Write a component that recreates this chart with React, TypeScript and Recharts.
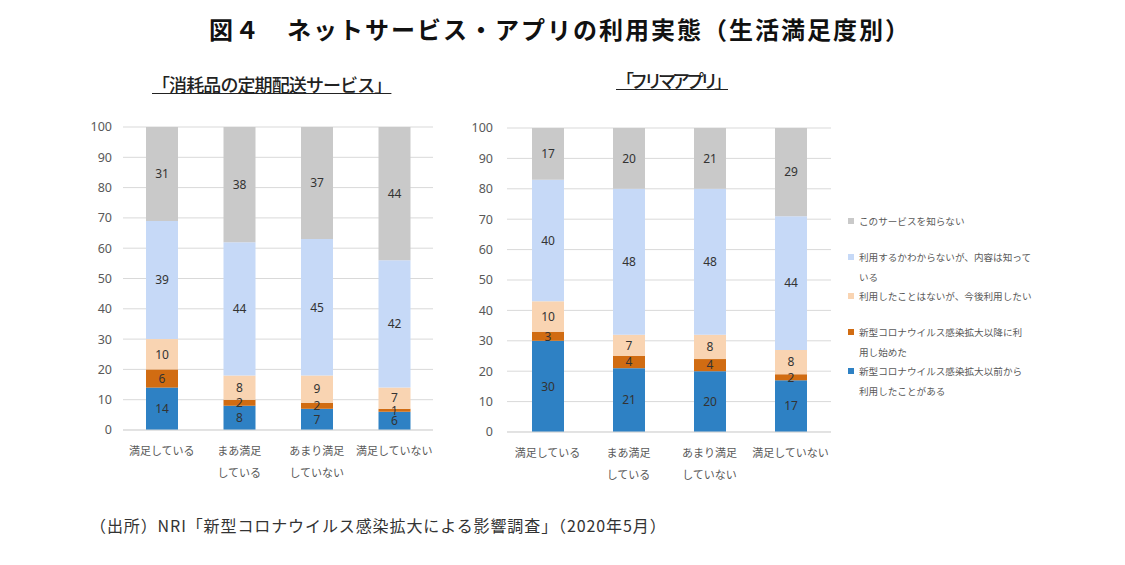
import React from "react";
import { BarChart, Bar, XAxis, YAxis, CartesianGrid, LabelList } from "recharts";

const categories = ["満足している", "まあ満足\nしている", "あまり満足\nしていない", "満足していない"];

// bottom -> top stacking order
const seriesNames = [
  "新型コロナウイルス感染拡大以前から利用したことがある",
  "新型コロナウイルス感染拡大以降に利用し始めた",
  "利用したことはないが、今後利用したい",
  "利用するかわからないが、内容は知っている",
  "このサービスを知らない",
];
const legendLabels = [
  "新型コロナウイルス感染拡大以前から\n利用したことがある",
  "新型コロナウイルス感染拡大以降に利\n用し始めた",
  "利用したことはないが、今後利用したい",
  "利用するかわからないが、内容は知って\nいる",
  "このサービスを知らない",
];
const seriesColors = ["#2E81C4", "#D16C12", "#F9D4B2", "#C6D9F7", "#C9C9C9"];

// 「消耗品の定期配送サービス」
const teikiBefore = [14, 8, 7, 6];
const teikiAfter = [6, 2, 2, 1];
const teikiWant = [10, 8, 9, 7];
const teikiKnow = [39, 44, 45, 42];
const teikiUnknown = [31, 38, 37, 44];

// 「フリマアプリ」
const furimaBefore = [30, 21, 20, 17];
const furimaAfter = [3, 4, 4, 2];
const furimaWant = [10, 7, 8, 8];
const furimaKnow = [40, 48, 48, 44];
const furimaUnknown = [17, 20, 21, 29];

const yTicks = [0, 10, 20, 30, 40, 50, 60, 70, 80, 90, 100];

const JP = "'Noto Sans CJK JP', 'Noto Sans', sans-serif";

function buildRows(series: number[][]) {
  return categories.map((c, i) => {
    const row: Record<string, string | number> = { category: c };
    series.forEach((s, k) => (row["s" + k] = s[i]));
    return row;
  });
}

const teikiRows = buildRows([teikiBefore, teikiAfter, teikiWant, teikiKnow, teikiUnknown]);
const furimaRows = buildRows([furimaBefore, furimaAfter, furimaWant, furimaKnow, furimaUnknown]);

function CatTick(props: any) {
  const { x, y, payload } = props;
  const lines = String(payload.value).split("\n");
  return (
    <g transform={`translate(${x},${y})`}>
      {lines.map((l, i) => (
        <text key={i} x={0} y={13 + i * 22} dy="0.35em" textAnchor="middle" fontSize={11} fill="#595959" fontFamily={JP}>
          {l}
        </text>
      ))}
    </g>
  );
}

function Panel({ rows, width, height, tickMargin }: { rows: any[]; width: number; height: number; tickMargin: number }) {
  return (
    <BarChart width={width} height={height} data={rows} margin={{ top: 10, right: 0, bottom: 0, left: 0 }} barSize={32}>
      <CartesianGrid vertical={false} stroke="#D9D9D9" />
      <XAxis dataKey="category" tick={<CatTick />} tickLine={false} axisLine={{ stroke: "#D9D9D9" }} height={50} interval={0} />
      <YAxis
        domain={[0, 100]}
        ticks={yTicks}
        allowDataOverflow
        width={50}
        axisLine={false}
        tickLine={false}
        tickMargin={tickMargin}
        tick={{ fontSize: 12.5, fill: "#595959", fontFamily: "'Noto Sans', sans-serif" }}
      />
      {seriesNames.map((name, k) => (
        <Bar key={k} dataKey={"s" + k} name={name} stackId="a" fill={seriesColors[k]} isAnimationActive={false}>
          <LabelList dataKey={"s" + k} position="center" fill="#333" fontSize={12} fontFamily="'Noto Sans', sans-serif" />
        </Bar>
      ))}
    </BarChart>
  );
}

export default function App() {
  const legendOrder = [4, 3, 2, 1, 0];
  return (
    <div style={{ position: "absolute", left: 0, top: 0, width: 1125, height: 565, background: "#fff", fontFamily: JP }}>
      <div style={{ position: "absolute", left: 200, top: 12, width: 720, textAlign: "center", fontSize: 24, fontWeight: 700, color: "#111", letterSpacing: 2, lineHeight: "34px" }}>
        図４　ネットサービス・アプリの利用実態（生活満足度別）
      </div>
      <div style={{ position: "absolute", left: 152, top: 72, fontSize: 18, fontWeight: 500, color: "#222", textDecoration: "underline", lineHeight: "25px", letterSpacing: -0.9, whiteSpace: "nowrap" }}>
        「消耗品の定期配送サービス」
      </div>
      <div style={{ position: "absolute", left: 616, top: 68, fontSize: 18, fontWeight: 500, color: "#222", textDecoration: "underline", lineHeight: "25px", letterSpacing: -4, whiteSpace: "nowrap" }}>
        「フリマアプリ」
      </div>

      <div style={{ position: "absolute", left: 73, top: 117 }}>
        <Panel rows={teikiRows} width={360} height={363} tickMargin={5} />
      </div>
      <div style={{ position: "absolute", left: 457, top: 118 }}>
        <Panel rows={furimaRows} width={374} height={364} tickMargin={8} />
      </div>

      <div style={{ position: "absolute", left: 848, top: 211, fontSize: 9.6, color: "#595959", lineHeight: "20px" }}>
        {legendOrder.map((k) => {
          const twoLines = legendLabels[k].includes("\n");
          return (
            <div key={k} style={{ position: "relative", paddingLeft: 11, height: twoLines ? 39 : 36, whiteSpace: "pre-line" }}>
              <span style={{ position: "absolute", left: 0, top: 7, width: 6, height: 6, background: seriesColors[k] }} />
              {legendLabels[k]}
            </div>
          );
        })}
      </div>

      <div style={{ position: "absolute", left: 90, top: 513, fontSize: 16, color: "#333", lineHeight: "24px", letterSpacing: 0.9, whiteSpace: "nowrap" }}>
        （出所）NRI「新型コロナウイルス感染拡大による影響調査」（2020年5月）
      </div>
    </div>
  );
}
